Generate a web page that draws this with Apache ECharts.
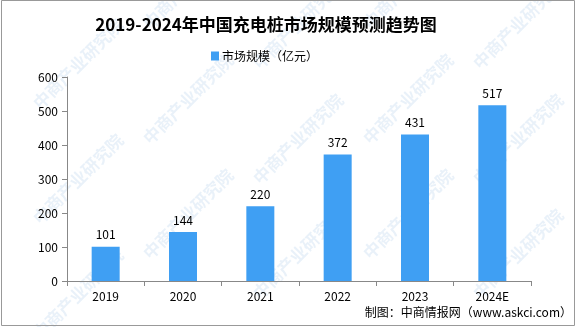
<!DOCTYPE html>
<html>
<head>
<meta charset="utf-8">
<script src="https://cdn.jsdelivr.net/npm/echarts@6/dist/echarts.min.js"></script>
<style>
  html, body { margin: 0; padding: 0; background: #fff; }
  #chart { width: 576px; height: 327px; }
</style>
</head>
<body>
<div id="chart"></div>
<script>
// Market size of EV charging piles in China, 2019-2024E (100 million yuan)
const years = ['2019', '2020', '2021', '2022', '2023', '2024E'];
const marketSize = [101, 144, 220, 372, 431, 517];
const yTicks = { min: 0, max: 600, interval: 100 };

const titleText = '2019-2024年中国充电桩市场规模预测趋势图';
const seriesName = '市场规模（亿元）';
const sourceText = '制图：中商情报网（www.askci.com）';
const watermarkText = '中商产业研究院';

const chart = echarts.init(document.getElementById('chart'), null, { renderer: 'canvas' });

// Faint diagonal watermark tiles
const marks = [];
const anchors = [
  [30, 100], [30, 215], [30, 330],
  [250, 60], [250, 175], [250, 290],
  [470, 60], [470, 175], [470, 290],
  [140, 20], [140, 135], [140, 250],
  [360, 20], [360, 135], [360, 250]
];
anchors.forEach(function (p) {
  marks.push({
    type: 'text',
    x: p[0], y: p[1],
    rotation: Math.PI / 4,
    silent: true,
    z: 0,
    style: {
      text: watermarkText,
      font: 'bold 17px "Noto Sans CJK SC"',
      fill: 'rgba(120,170,215,0.16)'
    }
  });
});

chart.setOption({
  animation: false,
  backgroundColor: '#fff',
  textStyle: { fontFamily: '"Noto Sans CJK SC", sans-serif' },
  title: {
    text: titleText,
    left: 261, top: 11,
    textAlign: 'center',
    textStyle: { fontSize: 17, fontWeight: 'bold', color: '#000', fontFamily: '"Noto Sans CJK SC", serif' }
  },
  legend: {
    data: [seriesName],
    left: 206, top: 45,
    icon: 'rect',
    itemWidth: 8, itemHeight: 9, itemGap: 4,
    textStyle: { fontSize: 12, color: '#000', padding: [0, 0, 0, -2] }
  },
  grid: { left: 67, right: 45, top: 77, bottom: 46, containLabel: false },
  xAxis: {
    type: 'category',
    data: years,
    boundaryGap: true,
    axisLine: { lineStyle: { color: '#888', width: 1 } },
    axisTick: { show: true, length: 5, alignWithLabel: false, lineStyle: { color: '#888' } },
    axisLabel: { color: '#000', fontSize: 12, margin: 9 }
  },
  yAxis: {
    type: 'value',
    min: yTicks.min, max: yTicks.max, interval: yTicks.interval,
    axisLine: { show: true, lineStyle: { color: '#888', width: 1 } },
    axisTick: { show: true, length: 5, lineStyle: { color: '#888' } },
    axisLabel: { color: '#000', fontSize: 12, margin: 9 },
    splitLine: { show: false }
  },
  series: [{
    name: seriesName,
    type: 'bar',
    data: marketSize,
    barWidth: 28,
    itemStyle: { color: '#3f9ff3' },
    label: { show: true, position: 'top', distance: 6, color: '#000', fontSize: 12 }
  }],
  graphic: marks.concat([
    {
      type: 'text',
      right: 4, top: 306,
      z: 10,
      style: { text: sourceText, font: '12px "Noto Sans CJK SC"', fill: '#000' }
    },
    {
      type: 'rect',
      shape: { x: 1.5, y: 0.5, width: 573, height: 325 },
      z: 10,
      silent: true,
      style: { fill: 'none', stroke: '#999', lineWidth: 1 }
    }
  ])
});
</script>
</body>
</html>
